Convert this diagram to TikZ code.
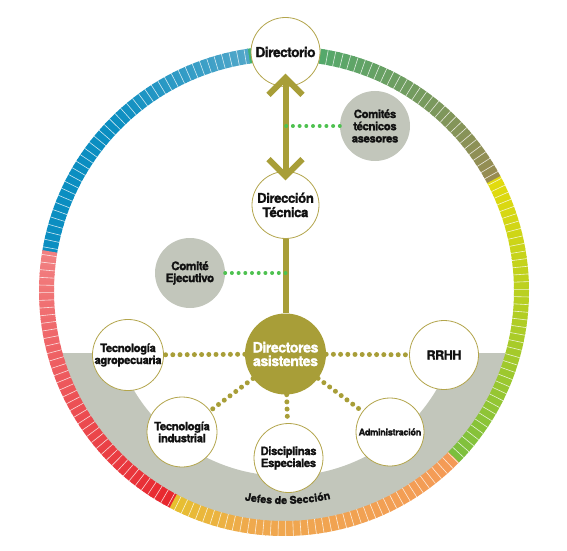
\documentclass[tikz,border=0pt]{standalone}
\usepackage{fontspec}
\newfontfamily\hv[LetterSpace=-4, BoldFeatures={FakeBold=1.0}]{TeX Gyre Heros}
\usetikzlibrary{calc,decorations.text}
\definecolor{olivec}{HTML}{A89E38}
\definecolor{olivebd}{HTML}{B3A54C}
\definecolor{greyc}{HTML}{C2C6BB}
\definecolor{greendot}{HTML}{4EC150}
\definecolor{txt}{HTML}{111111}
% ring colours
\definecolor{rG}{HTML}{7ABF3F}
\definecolor{rY}{HTML}{E3DB0D}
\definecolor{rOl}{HTML}{998B52}
\definecolor{rGr}{HTML}{3EB373}
\definecolor{rLB}{HTML}{52A7C9}
\definecolor{rDB}{HTML}{0B8EC1}
\definecolor{rSa}{HTML}{F28182}
\definecolor{rRd}{HTML}{E7262D}
\definecolor{rYO}{HTML}{E6C12F}
\definecolor{rO1}{HTML}{EFA94E}
\definecolor{rO2}{HTML}{F49A57}
\newcommand{\ringpart}[5]{%
  \pgfmathsetmacro{\rpstep}{(#2-#1)/#5}%
  \foreach \k in {1,...,#5}{%
    \pgfmathsetmacro{\aa}{#1+(\k-1)*\rpstep}%
    \pgfmathsetmacro{\bb}{\aa+\rpstep+0.2}%
    \pgfmathsetmacro{\pp}{100*(\k-0.5)/#5}%
    \colorlet{segc}{#4!\pp!#3}%
    \fill[segc] (\aa:230pt) -- (\aa:245pt) arc[start angle=\aa, end angle=\bb, radius=245pt]
      -- (\bb:230pt) arc[start angle=\bb, end angle=\aa, radius=230pt] -- cycle;
  }}
\newcommand\fDir{\hv\bfseries\fontsize{13.8}{14}\selectfont}
\newcommand\fDT{\hv\bfseries\fontsize{13.4}{14.3}\selectfont}
\newcommand\fCT{\hv\bfseries\fontsize{11.5}{12.2}\selectfont}
\newcommand\fCE{\hv\bfseries\fontsize{11.8}{12}\selectfont}
\newcommand\fDA{\hv\bfseries\fontsize{14.4}{13.6}\selectfont}
\newcommand\fSub{\hv\bfseries\fontsize{11.5}{12}\selectfont}
\newcommand\fAdm{\hv\bfseries\fontsize{9.3}{10}\selectfont}
\newcommand\fRR{\hv\bfseries\fontsize{12.5}{13}\selectfont}
\newcommand\fJefe{\hv\bfseries\fontsize{10.8}{11}\selectfont}
\begin{document}
\begin{tikzpicture}[x=1pt,y=1pt,
  circ/.style={circle, draw=olivebd, line width=0.8pt, fill=white, inner sep=0pt, align=center, text=txt},
  gcirc/.style={circle, fill=greyc, inner sep=0pt, align=center, text=txt},
  odots/.style={olivec, line width=5pt, line cap=round, dash pattern=on 0pt off 7.2pt},
  gdots/.style={greendot, line width=4pt, line cap=round, dash pattern=on 0pt off 6.7pt},
  axisline/.style={olivec, line width=6pt},
  chevron/.style={olivec, line width=6pt, line join=miter}]
\useasboundingbox (0,0) rectangle (567,550);
% grey band
\begin{scope}
  \clip (0,0) rectangle (567,197);
  \fill[greyc, even odd rule] (284,259) circle[radius=232pt] (285,250) circle[radius=176pt];
\end{scope}
% ring
\begin{scope}[shift={(284,259)}]
  \ringpart{-44.6}{28}{rG}{rY}{40}
  \ringpart{28}{98.5}{rOl}{rGr}{39}
  \ringpart{98.5}{135}{rLB}{rDB}{20}
  \ringpart{135}{170.4}{rDB}{rDB}{20}
  \ringpart{170.4}{242.2}{rSa}{rRd}{40}
  \ringpart{242.2}{262}{rYO}{rO1}{11}
  \ringpart{262}{315.4}{rO1}{rO2}{30}
  \foreach \i in {0,...,199}{%
    \pgfmathsetmacro{\ta}{-44.6+\i*1.8}%
    \draw[white, line width=0.6pt, opacity=0.8] (\ta:230pt) -- (\ta:245pt);
  }
  \path[decorate, decoration={text along path, text align=center,
      text={|\fJefe\color{txt}|Jefes de Sección}}]
    (253:213pt) arc[start angle=253, end angle=289, radius=213pt];
\end{scope}
% nodes
\node[circ, minimum size=69pt, font=\fDir] (dir) at (285.5,498) {Directorio};
\node[gcirc, minimum size=70pt, font=\fCT] (ctec) at (375,424) {Comités\\técnicos\\asesores};
\node[circ, minimum size=67pt, font=\fDT] (dt) at (285.5,345) {Dirección\\Técnica};
\node[gcirc, minimum size=70pt, font=\fCE] (cej) at (190,277) {Comité\\Ejecutivo};
\node[circle, fill=olivec, inner sep=0pt, minimum size=81pt, align=center, text=white, font=\fDA] (da) at (285.5,196) {Directores\\asistentes};
\node[circ, minimum size=69pt, font=\fSub] (tagro) at (128,195) {Tecnología\\agropecuaria};
\node[circ, minimum size=70pt, font=\fSub] (tind) at (182,118) {Tecnología\\industrial};
\node[circ, minimum size=69pt, font=\fSub] (dise) at (288.5,92) {Disciplinas\\Especiales};
\node[circ, minimum size=68pt, font=\fAdm] (adm) at (390,118) {Administración};
\node[circ, minimum size=69pt, font=\fRR] (rrhh) at (444,195) {RRHH};
% connectors
\draw[axisline, shorten <=-9pt, shorten >=-5pt] (dir) -- (dt);
\coordinate (tipA) at ($(dir.south)+(0,9)$);
\coordinate (tipB) at ($(dt.north)+(0,-5)$);
\draw[chevron] ($(tipA)+(-17,-17)$) -- (tipA) -- ($(tipA)+(17,-17)$);
\draw[chevron] ($(tipB)+(-17,17)$) -- (tipB) -- ($(tipB)+(17,17)$);
\draw[axisline] (dt) -- (da);
\draw[gdots] (ctec.west) -- (ctec.west -| dt.center);
\draw[gdots] (cej.east) -- (cej.east -| dt.center);
\draw[odots] (da) -- (tagro);
\draw[odots] (da) -- (tind);
\draw[odots] (da) -- (dise);
\draw[odots] (da) -- (adm);
\draw[odots] (da) -- (rrhh);
\end{tikzpicture}
\end{document}
